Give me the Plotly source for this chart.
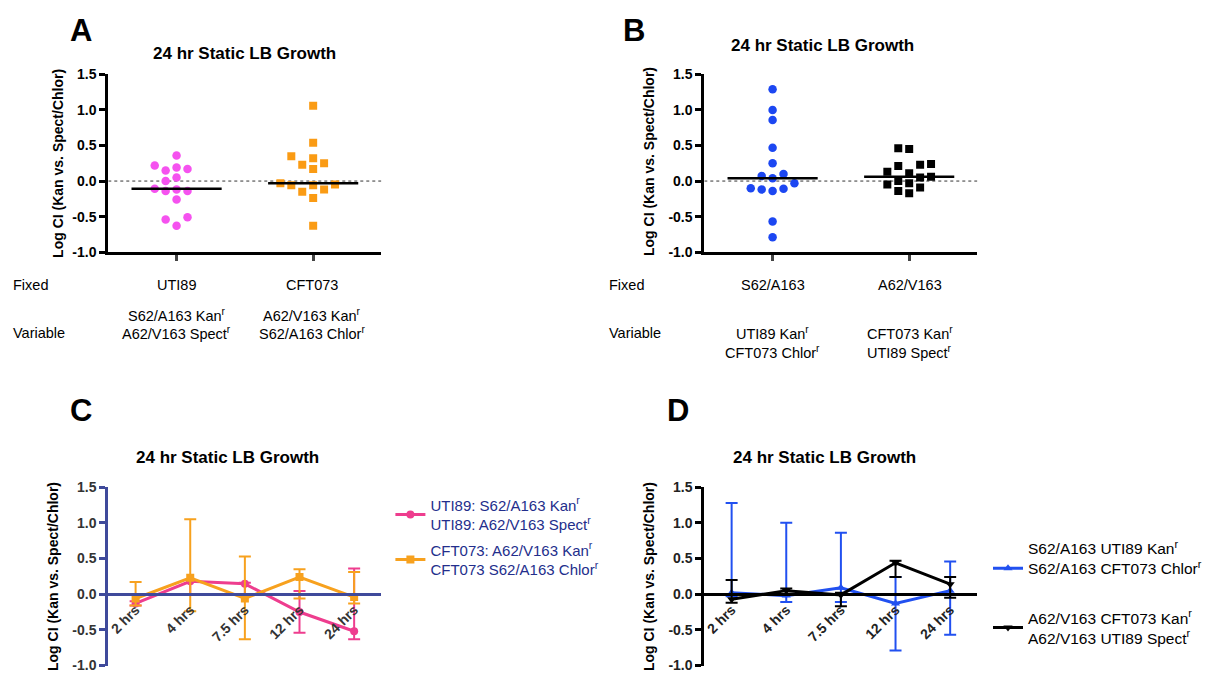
import numpy as np
import plotly.graph_objects as go

W, H = 1207, 683
FONT = "Liberation Sans"

# ---------------- data ----------------
a_groups = ["UTI89", "CFT073"]
a_uti89 = [0.36, 0.17, 0.15, 0.19, 0.22, 0.05, 0.00, -0.12, -0.14, -0.14, -0.11, -0.26, -0.51, -0.54, -0.63]
a_cft073 = [1.06, 0.54, 0.32, 0.35, 0.23, 0.17, 0.25, -0.05, -0.06, -0.06, -0.03, -0.15, -0.12, -0.24, -0.63]

b_groups = ["S62/A163", "A62/V163"]
b_s62 = [1.29, 1.00, 0.86, 0.47, 0.25, 0.07, 0.04, 0.10, -0.03, -0.11, -0.14, -0.12, -0.10, -0.57, -0.79]
b_a62 = [0.46, 0.45, 0.24, 0.21, 0.23, 0.11, 0.13, 0.05, 0.06, 0.00, -0.03, -0.05, -0.09, -0.14, -0.17]

timepoints = ["2 hrs", "4 hrs", "7.5 hrs", "12 hrs", "24 hrs"]
c_uti89 = [-0.13, 0.18, 0.145, -0.25, -0.52]
c_uti89_hi = [-0.10, 0.20, 0.16, 0.045, 0.36]
c_uti89_lo = [-0.16, 0.00, 0.00, -0.54, -0.63]
c_cft = [-0.06, 0.23, -0.06, 0.24, -0.04]
c_cft_hi = [0.17, 1.05, 0.53, 0.35, 0.31]
c_cft_lo = [-0.16, -0.24, -0.63, -0.06, -0.13]

d_s62 = [0.02, -0.02, 0.09, -0.13, 0.05]
d_s62_hi = [1.28, 1.00, 0.86, 0.24, 0.46]
d_s62_lo = [-0.03, -0.11, -0.11, -0.79, -0.57]
d_a62 = [-0.07, 0.05, -0.01, 0.44, 0.14]
d_a62_hi = [0.20, 0.08, 0.02, 0.47, 0.24]
d_a62_lo = [-0.12, 0.00, -0.17, 0.24, -0.05]

y_ticks = [-1.0, -0.5, 0.0, 0.5, 1.0, 1.5]
title_text = "24 hr Static LB Growth"
ytitle_text = "Log CI (Kan vs. Spect/Chlor)"

a_fixed = ["UTI89", "CFT073"]
a_variable = [["S62/A163 Kan<sup>r</sup>", "A62/V163 Spect<sup>r</sup>"],
              ["A62/V163 Kan<sup>r</sup>", "S62/A163 Chlor<sup>r</sup>"]]
b_fixed = ["S62/A163", "A62/V163"]
b_variable = [["UTI89 Kan<sup>r</sup>", "CFT073 Chlor<sup>r</sup>"],
              ["CFT073 Kan<sup>r</sup>", "UTI89 Spect<sup>r</sup>"]]

c_names = ["UTI89: S62/A163 Kan<sup>r</sup><br>UTI89: A62/V163 Spect<sup>r</sup>",
           "CFT073: A62/V163 Kan<sup>r</sup><br>CFT073 S62/A163 Chlor<sup>r</sup>"]
d_names = ["S62/A163 UTI89 Kan<sup>r</sup><br>S62/A163 CFT073 Chlor<sup>r</sup><br>&nbsp;",
           "A62/V163 CFT073 Kan<sup>r</sup><br>A62/V163 UTI89 Spect<sup>r</sup>"]

# ---------------- styles ----------------
PINK_A = "#F552EF"
ORANGE_A = "#FA9B14"
BLUE_B = "#1C47F2"
PINK_C = "#EE3D8E"
ORANGE_C = "#F7A11E"
BLUE_D = "#2150F0"
NAVY = "#3F4A9B"
NAVY_TXT = "#232E8C"

YMIN, YMAX = -1.0, 1.5


def px(x):
    return x / W


def py(y):
    return 1 - y / H


dom_x_left = [px(108), px(383)]
dom_x_right = [px(708), px(983)]
dom_y_top = [py(250), py(68)]
dom_y_bot = [py(673.3), py(490.7)]

px_per_x = 275 / 2.0
px_per_y = 182 / 2.5


def swarm(vals, center, diam=10.0, step=11.0):
    vals = np.asarray(vals, float)
    order = np.argsort(vals)
    placed = []
    xs = np.zeros(len(vals))
    cands = [0]
    for j in range(1, 12):
        cands += [-j, j]
    for i in order:
        yp = vals[i] * px_per_y
        xp = 0.0
        for c in cands:
            xp = c * step
            if all((xp - a) ** 2 + (yp - b) ** 2 >= diam ** 2 for a, b in placed):
                break
        placed.append((xp, yp))
        xs[i] = center + xp / px_per_x
    return xs


fig = go.Figure()


# ---------------- Panels A, B (scatter) ----------------
def dot_panel(xa, ya, groups, series, colors, symbols):
    for gi, (vals, col, sym) in enumerate(zip(series, colors, symbols)):
        fig.add_trace(go.Scatter(
            x=swarm(vals, gi), y=vals, mode="markers",
            marker=dict(color=col, symbol=sym, size=8.5 if sym == "circle" else 8,
                        line=dict(width=0)),
            xaxis=xa, yaxis=ya, showlegend=False, hoverinfo="skip"))
        med = float(np.median(vals))
        fig.add_trace(go.Scatter(
            x=[gi - 0.33, gi + 0.33], y=[med, med], mode="lines",
            line=dict(color="black", width=2.5),
            xaxis=xa, yaxis=ya, showlegend=False, hoverinfo="skip"))
    fig.add_shape(type="line", x0=-0.5, x1=1.5, y0=0, y1=0,
                  xref=xa, yref=ya, line=dict(color="#333", width=1, dash="dot"), layer="below")


dot_panel("x", "y", a_groups, [a_uti89, a_cft073], [PINK_A, ORANGE_A], ["circle", "square"])
dot_panel("x2", "y2", b_groups, [b_s62, b_a62], [BLUE_B, "black"], ["circle", "square"])


# ---------------- Panels C, D (time course) ----------------
def err(vals, hi, lo):
    v = np.asarray(vals, float)
    return dict(type="data", array=list(np.asarray(hi) - v), arrayminus=list(v - np.asarray(lo)),
                thickness=2, width=6, visible=True)


def line_trace(vals, hi, lo, col, sym, name, xa, ya, leg, grp):
    e = err(vals, hi, lo)
    e["color"] = col
    fig.add_trace(go.Scatter(
        x=timepoints, y=vals, mode="lines+markers", name=name,
        line=dict(color=col, width=3), marker=dict(color=col, symbol=sym, size=8),
        error_y=e, xaxis=xa, yaxis=ya, legend=leg, legendgroup=grp, hoverinfo="skip"))


line_trace(c_uti89, c_uti89_hi, c_uti89_lo, PINK_C, "circle", c_names[0], "x3", "y3", "legend", "c1")
line_trace(c_cft, c_cft_hi, c_cft_lo, ORANGE_C, "square", c_names[1], "x3", "y3", "legend", "c2")
line_trace(d_s62, d_s62_hi, d_s62_lo, BLUE_D, "triangle-up", d_names[0], "x4", "y4", "legend2", "d1")
line_trace(d_a62, d_a62_hi, d_a62_lo, "black", "triangle-down", d_names[1], "x4", "y4", "legend2", "d2")


# ---------------- axes ----------------
def yax(dom, anchor, col, tfcol):
    return dict(domain=dom, anchor=anchor, range=[YMIN, YMAX], tickvals=y_ticks,
                ticktext=[f"{v:.1f}" for v in y_ticks], showgrid=False, zeroline=False,
                showline=True, linecolor=col, linewidth=3, ticks="outside", ticklen=6,
                tickwidth=2.5, tickcolor=col,
                tickfont=dict(family=FONT, size=14, color=tfcol, weight="bold"))


def zero_pos(dom):
    return dom[0] + (0 - YMIN) / (YMAX - YMIN) * (dom[1] - dom[0])


layout_axes = dict(
    xaxis=dict(domain=dom_x_left, anchor="y", range=[-0.5, 1.5], tickvals=[0, 1],
               showticklabels=False, showgrid=False, zeroline=False, showline=True,
               linecolor="black", linewidth=3, ticks="outside", ticklen=6, tickwidth=2.5),
    yaxis=yax(dom_y_top, "x", "black", "black"),
    xaxis2=dict(domain=dom_x_right, anchor="y2", range=[-0.5, 1.5], tickvals=[0, 1],
                showticklabels=False, showgrid=False, zeroline=False, showline=True,
                linecolor="black", linewidth=3, ticks="outside", ticklen=6, tickwidth=2.5),
    yaxis2=yax(dom_y_top, "x2", "black", "black"),
    xaxis3=dict(domain=dom_x_left, anchor="free", position=zero_pos(dom_y_bot),
                type="category", categoryorder="array", categoryarray=timepoints,
                range=[-0.5, 4.5], showgrid=False, zeroline=False, showline=True,
                linecolor=NAVY, linewidth=3, ticks="", tickangle=-45,
                tickfont=dict(family=FONT, size=14, color="#333", weight="bold")),
    yaxis3=yax(dom_y_bot, "x3", NAVY, "#333"),
    xaxis4=dict(domain=dom_x_right, anchor="free", position=zero_pos(dom_y_bot),
                type="category", categoryorder="array", categoryarray=timepoints,
                range=[-0.5, 4.5], showgrid=False, zeroline=False, showline=True,
                linecolor="black", linewidth=3, ticks="", tickangle=-45,
                tickfont=dict(family=FONT, size=14, color="#222", weight="bold")),
    yaxis4=yax(dom_y_bot, "x4", "black", "#222"),
)

fig.update_layout(**layout_axes)

# ---------------- annotations ----------------
anns = []


def ann(text, x, y, size, bold=False, xanchor="center", color="black", angle=0):
    anns.append(dict(text=f"<b>{text}</b>" if bold else text, x=px(x), y=py(y),
                     xref="paper", yref="paper", xanchor=xanchor, yanchor="middle",
                     showarrow=False, textangle=angle,
                     font=dict(family=FONT, size=size, color=color)))


for letter, (lx, ly) in zip("ABCD", [(81, 23), (637, 23), (81, 412), (682, 412)]):
    ann(letter, lx, ly, 31, bold=True)

for (tx, ty) in [(245, 47), (827, 38), (228.5, 460), (828.5, 460)]:
    ann(title_text, tx, ty, 17, bold=True)

for (tx, ty) in [(58, 159), (653, 157), (53, 582), (653, 582)]:
    ann(ytitle_text, tx, ty, 14, bold=True, angle=-90)

# table text under A
ann("Fixed", 10, 284, 14.5, xanchor="left")
ann("Variable", 10, 333, 14.5, xanchor="left")
for cx, fx, var in zip([177, 313], a_fixed, a_variable):
    ann(fx, cx, 284, 14.5)
    ann(var[0], cx, 314, 14.5)
    ann(var[1], cx, 333, 14.5)

# table text under B
ann("Fixed", 610, 284, 14.5, xanchor="left")
ann("Variable", 610, 333, 14.5, xanchor="left")
for cx, fx, var in zip([777, 915], b_fixed, b_variable):
    ann(fx, cx, 284, 14.5)
    ann(var[0], cx, 333, 14.5)
    ann(var[1], cx, 352, 14.5)

fig.update_layout(
    annotations=anns,
    width=W, height=H, margin=dict(l=0, r=0, t=0, b=0),
    paper_bgcolor="white", plot_bgcolor="rgba(0,0,0,0)",
    showlegend=True,
    legend=dict(x=px(392), y=py(492), xanchor="left", yanchor="top",
                font=dict(family=FONT, size=15, color=NAVY_TXT), bgcolor="rgba(0,0,0,0)",
                tracegroupgap=3, valign="middle", itemclick=False),
    legend2=dict(x=px(994), y=py(536), xanchor="left", yanchor="top",
                 font=dict(family=FONT, size=15.5, color="black"), bgcolor="rgba(0,0,0,0)",
                 tracegroupgap=6, valign="middle", itemclick=False),
)

fig.write_html("out.html")
